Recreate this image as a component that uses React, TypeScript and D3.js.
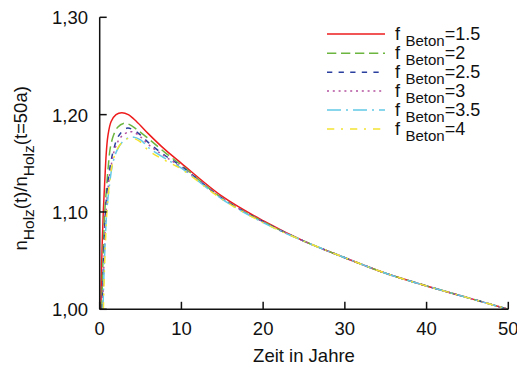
import React from "react";
import * as d3 from "d3";

const xTicks = [0, 10, 20, 30, 40, 50];
const yTicks = [1.0, 1.1, 1.2, 1.3];
const yTickLabels = ["1,00", "1,10", "1,20", "1,30"];
const seriesLabels = ["1.5", "2", "2.5", "3", "3.5", "4"];
const seriesColors = ["#ee1c1c", "#6cb640", "#2b3f9e", "#b4529f", "#62c9e6", "#f4e432"];
const seriesDashes = ["none", "9.3,4.7", "5.3,6.3", "2,3.8", "14,5,2,5", "7.3,6.7,2,7"];

const tailT = [25, 30, 35, 40, 45, 50];
const tailV = [1.07, 1.053, 1.037, 1.024, 1.012, 1.0];

const red: [number, number][] = [
  [0.15, 1.0], [0.25, 1.05], [0.44, 1.1], [0.6, 1.128], [0.8, 1.16], [1.0, 1.178], [1.4, 1.193],
  [2.0, 1.2], [2.7, 1.202], [3.5, 1.2], [4.5, 1.193], [6, 1.18], [8, 1.164], [10, 1.15],
  [15, 1.116], [20, 1.091],
];
const green: [number, number][] = [
  [0.25, 1.0], [0.4, 1.05], [0.62, 1.1], [0.85, 1.126], [1.05, 1.147], [1.3, 1.166], [1.7, 1.179],
  [2.2, 1.187], [2.9, 1.191], [3.6, 1.19], [4.5, 1.185], [6, 1.175], [8, 1.161], [10, 1.148],
  [15, 1.114], [20, 1.09],
];
const blue: [number, number][] = [
  [0.3, 1.0], [0.48, 1.05], [0.7, 1.1], [1.0, 1.13], [1.3, 1.148], [1.7, 1.164], [2.3, 1.178],
  [3.3, 1.186], [4.2, 1.184], [5, 1.179], [6, 1.171], [8, 1.158], [10, 1.147],
  [15, 1.114], [20, 1.09],
];
const purple: [number, number][] = [
  [0.35, 1.0], [0.53, 1.05], [0.78, 1.1], [1.1, 1.13], [1.5, 1.152], [1.9, 1.166], [2.6, 1.177],
  [3.7, 1.1825], [4.6, 1.18], [6, 1.169], [8, 1.157], [10, 1.146],
  [15, 1.114], [20, 1.09],
];
const cyan: [number, number][] = [
  [0.4, 1.0], [0.58, 1.05], [0.86, 1.1], [1.2, 1.128], [1.6, 1.15], [2.1, 1.163], [2.9, 1.173],
  [3.9, 1.177], [5, 1.174], [6, 1.166], [8, 1.155], [10, 1.145],
  [15, 1.113], [20, 1.089],
];
const yellow: [number, number][] = [
  [0.45, 1.0], [0.62, 1.05], [0.88, 1.1], [1.15, 1.126], [1.5, 1.147], [2.0, 1.162], [2.8, 1.172],
  [3.7, 1.176], [4.8, 1.173], [6, 1.163], [8, 1.153], [10, 1.144],
  [15, 1.113], [20, 1.089],
];
const seriesData = [red, green, blue, purple, cyan, yellow];

const W = 517;
const H = 368;
const M = { left: 99.7, right: 508.3, top: 17.3, bottom: 309.3 };

export default function App() {
  const x = d3.scaleLinear().domain([0, 50]).range([M.left, M.right]);
  const y = d3.scaleLinear().domain([1.0, 1.3]).range([M.bottom, M.top]);
  const line = d3
    .line<[number, number]>()
    .x((d) => x(d[0]))
    .y((d) => y(d[1]))
    .curve(d3.curveCatmullRom.alpha(0.5));
  const font = "'Liberation Sans', Arial, sans-serif";
  const legendY = [34, 53.3, 72.3, 91, 110, 129];

  return (
    <svg
      width={W}
      height={H}
      style={{ position: "absolute", left: 0, top: 0, background: "#fff" }}
      fontFamily={font}
    >
      <defs>
        <clipPath id="plotclip">
          <rect x={M.left} y={M.top - 5} width={M.right - M.left + 2} height={M.bottom - M.top + 5} />
        </clipPath>
      </defs>
      <rect x={0} y={0} width={W} height={H} fill="#fff" />
      <g clipPath="url(#plotclip)">
        {seriesData.map((s, i) => {
          const pts: [number, number][] = [...s, ...tailT.map((t, j) => [t, tailV[j]] as [number, number])];
          return (
            <path
              key={i}
              d={line(pts) || ""}
              fill="none"
              stroke={seriesColors[i]}
              strokeWidth={1.5}
              strokeDasharray={seriesDashes[i]}
            />
          );
        })}
      </g>
      {/* axes */}
      <line x1={M.left} x2={M.left} y1={M.top} y2={M.bottom} stroke="#111" strokeWidth={1.5} />
      <line x1={M.left} x2={M.right} y1={M.bottom} y2={M.bottom} stroke="#111" strokeWidth={1.5} />
      {yTicks.map((t, i) => (
        <g key={"y" + i}>
          <line x1={M.left} x2={M.left + 7} y1={y(t)} y2={y(t)} stroke="#111" strokeWidth={1.5} />
          <text x={88} y={y(t) + 7} fontSize={18.5} textAnchor="end" fill="#111">
            {yTickLabels[i]}
          </text>
        </g>
      ))}
      {xTicks.map((t, i) => (
        <g key={"x" + i}>
          <line x1={x(t)} x2={x(t)} y1={M.bottom} y2={M.bottom - 7.5} stroke="#111" strokeWidth={1.5} />
          <text x={x(t)} y={335} fontSize={18.5} textAnchor="middle" fill="#111">
            {t}
          </text>
        </g>
      ))}
      <text x={(M.left + M.right) / 2} y={361.5} fontSize={18.5} textAnchor="middle" fill="#111">
        Zeit in Jahre
      </text>
      <text
        transform={`translate(27,${(M.top + M.bottom) / 2 + 5}) rotate(-90)`}
        fontSize={18.5}
        textAnchor="middle"
        fill="#111"
      >
        n
        <tspan fontSize={15.5} dy={6.5}>Holz</tspan>
        <tspan dy={-6.5}>(t)/n</tspan>
        <tspan fontSize={15.5} dy={6.5}>Holz</tspan>
        <tspan dy={-6.5}>(t=50a)</tspan>
      </text>
      {/* legend */}
      {seriesLabels.map((lab, i) => (
        <g key={"l" + i}>
          <line
            x1={327}
            x2={385}
            y1={legendY[i]}
            y2={legendY[i]}
            stroke={seriesColors[i]}
            strokeWidth={1.5}
            strokeDasharray={seriesDashes[i]}
          />
          <text x={395} y={legendY[i] + 5.5} fontSize={18} fill="#111">
            f
            <tspan dx={5.5} dy={6} fontSize={15}>Beton</tspan>
            <tspan dy={-6}>={lab}</tspan>
          </text>
        </g>
      ))}
    </svg>
  );
}
